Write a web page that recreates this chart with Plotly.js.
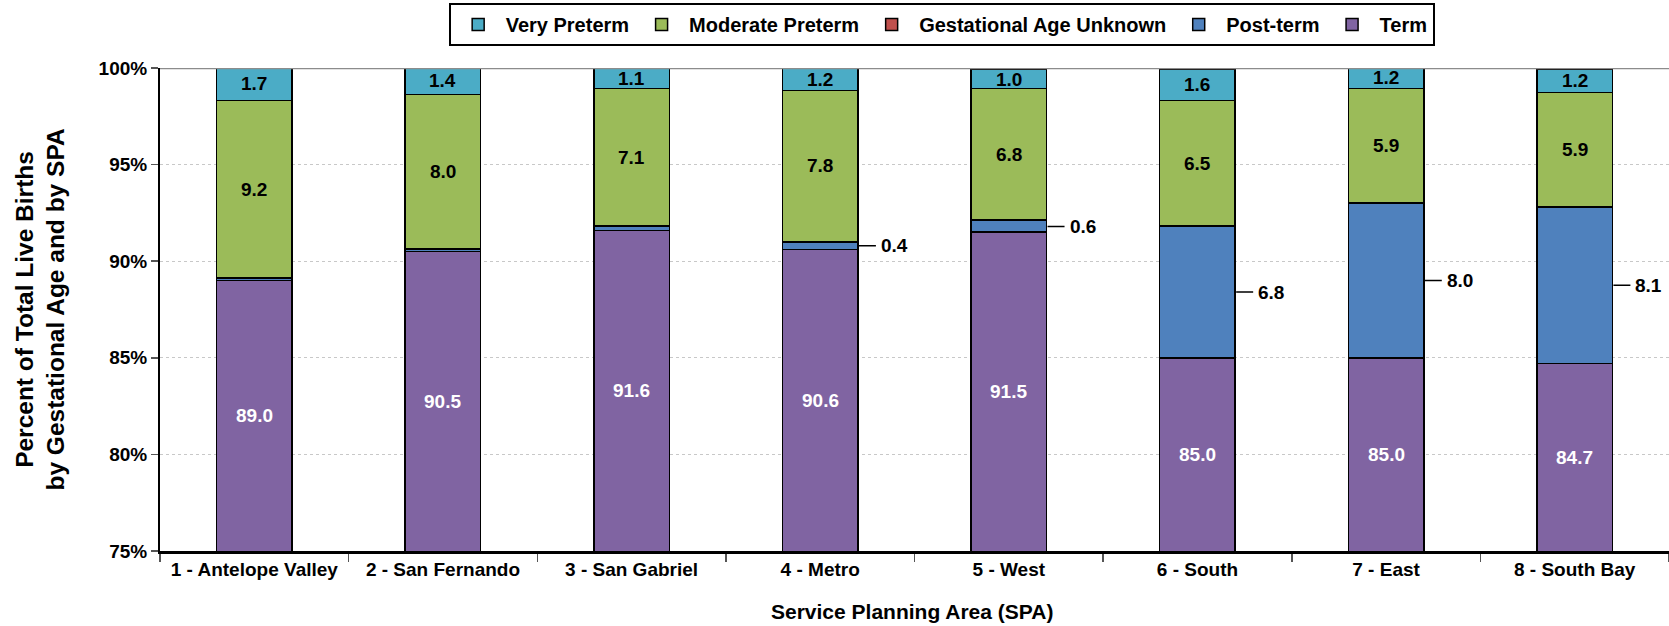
<!DOCTYPE html>
<html>
<head>
<meta charset="utf-8">
<script src="https://cdn.plot.ly/plotly-3.0.1.min.js"></script>
<style>
html,body{margin:0;padding:0;background:#fff;}
#chart{width:1669px;height:626px;}
</style>
</head>
<body>
<div id="chart"></div>
<script>
// Data (percent of total live births)
const categories = ["1 - Antelope Valley", "2 - San Fernando", "3 - San Gabriel", "4 - Metro", "5 - West", "6 - South", "7 - East", "8 - South Bay"];
const term = [89.0, 90.5, 91.6, 90.6, 91.5, 85.0, 85.0, 84.7];
const postTerm = [0.1, 0.1, 0.2, 0.4, 0.6, 6.8, 8.0, 8.1];
const unknownAge = [0.03, 0.03, 0.03, 0.03, 0.03, 0.03, 0.03, 0.03];
const moderatePreterm = [9.2, 8.0, 7.1, 7.8, 6.8, 6.5, 5.9, 5.9];
const veryPreterm = [1.7, 1.4, 1.1, 1.2, 1.0, 1.6, 1.2, 1.2];
const yTicks = [75, 80, 85, 90, 95, 100];

const FONT = "Liberation Sans, Arial, Helvetica, sans-serif";
const outline = {color: "#000000", width: 1.5};

function barTrace(name, vals, color) {
  return {
    type: "bar", name: name, x: categories, y: vals,
    marker: {color: color, line: outline},
    hoverinfo: "skip"
  };
}

const traces = [
  barTrace("Term", term, "#8064A2"),
  barTrace("Post-term", postTerm, "#4F81BD"),
  barTrace("Gestational Age Unknown", unknownAge, "#C0504D"),
  barTrace("Moderate Preterm", moderatePreterm, "#9BBB59"),
  barTrace("Very Preterm", veryPreterm, "#4BACC6")
];

const yMin = yTicks[0];
const LBL = 19;
const annotations = [];
categories.forEach((c, i) => {
  annotations.push({
    x: i, y: (yMin + term[i]) / 2, xref: "x", yref: "y",
    text: term[i].toFixed(1), showarrow: false,
    font: {family: FONT, size: LBL, color: "#ffffff", weight: "bold"}
  });
  const lowerTop = term[i] + postTerm[i] + unknownAge[i];
  annotations.push({
    x: i, y: lowerTop + moderatePreterm[i] / 2, xref: "x", yref: "y",
    text: moderatePreterm[i].toFixed(1), showarrow: false,
    font: {family: FONT, size: LBL, color: "#000000", weight: "bold"}
  });
  annotations.push({
    x: i, y: lowerTop + moderatePreterm[i] + veryPreterm[i] / 2, xref: "x", yref: "y",
    text: veryPreterm[i].toFixed(1), showarrow: false,
    font: {family: FONT, size: LBL, color: "#000000", weight: "bold"}
  });
  if (postTerm[i] >= 0.4) {
    annotations.push({
      x: i + 0.2, y: term[i] + postTerm[i] / 2, xref: "x", yref: "y",
      text: postTerm[i].toFixed(1), showarrow: true,
      arrowhead: 0, arrowwidth: 1.5, arrowcolor: "#000000",
      ax: 18, ay: 0, xanchor: "left", standoff: 1, borderpad: 4,
      font: {family: FONT, size: LBL, color: "#000000", weight: "bold"}
    });
  }
});

annotations.push({
  xref: "paper", yref: "paper", x: -0.0795, y: 0.5,
  text: "Percent of Total Live Births<br>by Gestational Age and by SPA",
  textangle: -90, showarrow: false, xanchor: "center", yanchor: "middle",
  font: {family: FONT, size: 24.5, color: "#000000", weight: "bold"}
});
annotations.push({
  xref: "paper", yref: "paper", x: 0.4985, y: -0.126,
  text: "Service Planning Area (SPA)", showarrow: false,
  xanchor: "center", yanchor: "middle",
  font: {family: FONT, size: 21, color: "#000000", weight: "bold"}
});

const layout = {
  width: 1669, height: 626,
  margin: {l: 160, r: 0, t: 68, b: 75, pad: 0},
  paper_bgcolor: "#ffffff", plot_bgcolor: "#ffffff",
  font: {family: FONT, size: 19, color: "#000000", weight: "bold"},
  barmode: "stack", bargap: 0.6,
  showlegend: true,
  legend: {
    orientation: "h", traceorder: "reversed",
    x: 0.518, xanchor: "center", y: 1.1346, yanchor: "top",
    bgcolor: "#ffffff", bordercolor: "#000000", borderwidth: 2,
    font: {family: FONT, size: 20, color: "#000000", weight: "bold"},
    itemwidth: 45
  },
  xaxis: {
    type: "category", showline: true, linecolor: "#000000", linewidth: 2.5,
    ticks: "outside", tickson: "boundaries", ticklen: 8, tickcolor: "#555555", tickwidth: 1.5,
    showgrid: false, zeroline: false, fixedrange: true,
    tickfont: {family: FONT, size: 19, color: "#000000", weight: "bold"}
  },
  yaxis: {
    range: [75, 100], tickvals: yTicks, ticktext: yTicks.map(v => v + "%"),
    showline: true, linecolor: "#000000", linewidth: 2,
    ticks: "outside", ticklen: 7, tickcolor: "#555555", tickwidth: 1.5,
    showgrid: true, gridcolor: "#c8c8c8", gridwidth: 1, griddash: "dot",
    zeroline: false, fixedrange: true,
    tickfont: {family: FONT, size: 19, color: "#000000", weight: "bold"}
  },
  shapes: [{
    type: "line", xref: "paper", yref: "y", x0: 0, x1: 1, y0: 100, y1: 100,
    line: {color: "#8c8c8c", width: 2.5}, layer: "above"
  }],
  annotations: annotations
};

Plotly.newPlot("chart", traces, layout, {displayModeBar: false, staticPlot: true});
</script>
</body>
</html>
